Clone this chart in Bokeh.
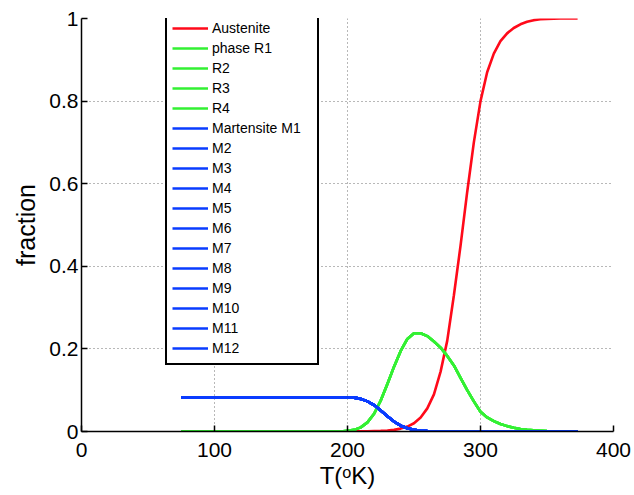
from bokeh.plotting import figure
from bokeh.models import Legend, LegendItem, Range1d, FixedTicker
from bokeh.embed import file_html
from bokeh.resources import INLINE

# ---- data ----
temperature = [75, 100, 150, 180, 195, 200, 205, 210, 215, 220, 225, 230, 235, 240, 245,
               250, 255, 260, 265, 270, 275, 280, 285, 290, 295, 300, 305, 310, 315, 320,
               325, 330, 335, 340, 345, 350, 360, 373]

austenite = [0, 0, 0, 0, 0, 0.0001, 0.0002, 0.0003, 0.0005, 0.001, 0.0015, 0.0025, 0.004,
             0.007, 0.012, 0.02, 0.034, 0.056, 0.09, 0.145, 0.22, 0.33, 0.45, 0.58, 0.70,
             0.80, 0.87, 0.915, 0.945, 0.964, 0.977, 0.986, 0.992, 0.996, 0.998, 0.999, 1.0, 1.0]

phase_r = [0, 0, 0, 0, 0, 0.002, 0.004, 0.01, 0.022, 0.043, 0.075, 0.115, 0.157, 0.195,
           0.224, 0.238, 0.238, 0.231, 0.218, 0.203, 0.183, 0.16, 0.13, 0.1, 0.073, 0.048,
           0.034, 0.025, 0.018, 0.013, 0.009, 0.006, 0.004, 0.003, 0.002, 0.001, 0.0003, 0]

martensite = [0.083, 0.083, 0.083, 0.083, 0.0828, 0.0825, 0.082, 0.079, 0.073, 0.064, 0.051,
              0.037, 0.024, 0.014, 0.008, 0.004, 0.002, 0.001, 0.0005, 0, 0, 0, 0, 0, 0, 0,
              0, 0, 0, 0, 0, 0, 0, 0, 0, 0, 0, 0]

r_labels = ["phase R1", "R2", "R3", "R4"]
m_labels = ["Martensite M1"] + ["M%d" % i for i in range(2, 13)]

x_ticks = [0, 100, 200, 300, 400]
y_ticks = [0, 0.2, 0.4, 0.6, 0.8, 1]
y_tick_labels = {0: "0", 0.2: "0.2", 0.4: "0.4", 0.6: "0.6", 0.8: "0.8", 1: "1"}

x_title = "T(\u1d52K)"
y_title = "fraction"

# ---- styling ----
FONT = "Liberation Sans"
RED = "#ff0a1a"
GREEN = "#33f033"
BLUE = "#0a3cff"
LW = 2.6

p = figure(width=634, height=495, output_backend="svg", toolbar_location=None,
           x_range=Range1d(0, 400), y_range=Range1d(0, 1),
           min_border_left=81, min_border_right=21, min_border_top=18, min_border_bottom=64)
p.outline_line_color = None
p.background_fill_color = "white"
p.border_fill_color = "white"

items = []
r = p.line(temperature, austenite, line_color=RED, line_width=LW)
items.append(LegendItem(label="Austenite", renderers=[r]))
for lab in r_labels:
    r = p.line(temperature, phase_r, line_color=GREEN, line_width=LW)
    items.append(LegendItem(label=lab, renderers=[r]))
for lab in m_labels:
    r = p.line(temperature, martensite, line_color=BLUE, line_width=LW)
    items.append(LegendItem(label=lab, renderers=[r]))

legend = Legend(items=items, location=(84, 66), border_line_color="black",
                border_line_width=2, border_line_alpha=1,
                background_fill_color="white", background_fill_alpha=1,
                label_text_font=FONT, label_text_font_size="14px", label_text_color="black",
                label_height=20, glyph_height=20, glyph_width=36, label_standoff=4,
                spacing=0, padding=5, label_width=100, margin=0)
p.add_layout(legend, "center")

for ax in (p.xaxis[0], p.yaxis[0]):
    ax.axis_line_color = "black"
    ax.axis_line_width = 1.5
    ax.major_tick_line_color = "black"
    ax.major_tick_line_width = 1.5
    ax.major_tick_in = 6
    ax.major_tick_out = 0
    ax.minor_tick_line_color = None
    ax.major_label_text_font = FONT
    ax.major_label_text_font_size = "21px"
    ax.major_label_text_color = "black"
    ax.axis_label_text_font = FONT
    ax.axis_label_text_font_style = "normal"
    ax.axis_label_text_color = "black"

p.xaxis.ticker = FixedTicker(ticks=x_ticks)
p.yaxis.ticker = FixedTicker(ticks=y_ticks)
p.yaxis.major_label_overrides = y_tick_labels
p.xaxis.major_label_standoff = 11
p.yaxis.major_label_standoff = 3

p.yaxis.axis_label = y_title
p.yaxis.axis_label_text_font_size = "25px"
p.yaxis.axis_label_standoff = 6

p.xaxis.axis_label = x_title
p.xaxis.axis_label_text_font_size = "24px"
p.xaxis.axis_label_standoff = 2

for g in (p.xgrid[0], p.ygrid[0]):
    g.grid_line_color = "#707070"
    g.grid_line_dash = "1 3"
    g.grid_line_width = 1
p.xgrid.ticker = FixedTicker(ticks=x_ticks)
p.ygrid.ticker = FixedTicker(ticks=y_ticks)

open("out.html", "w").write(file_html(p, INLINE))
